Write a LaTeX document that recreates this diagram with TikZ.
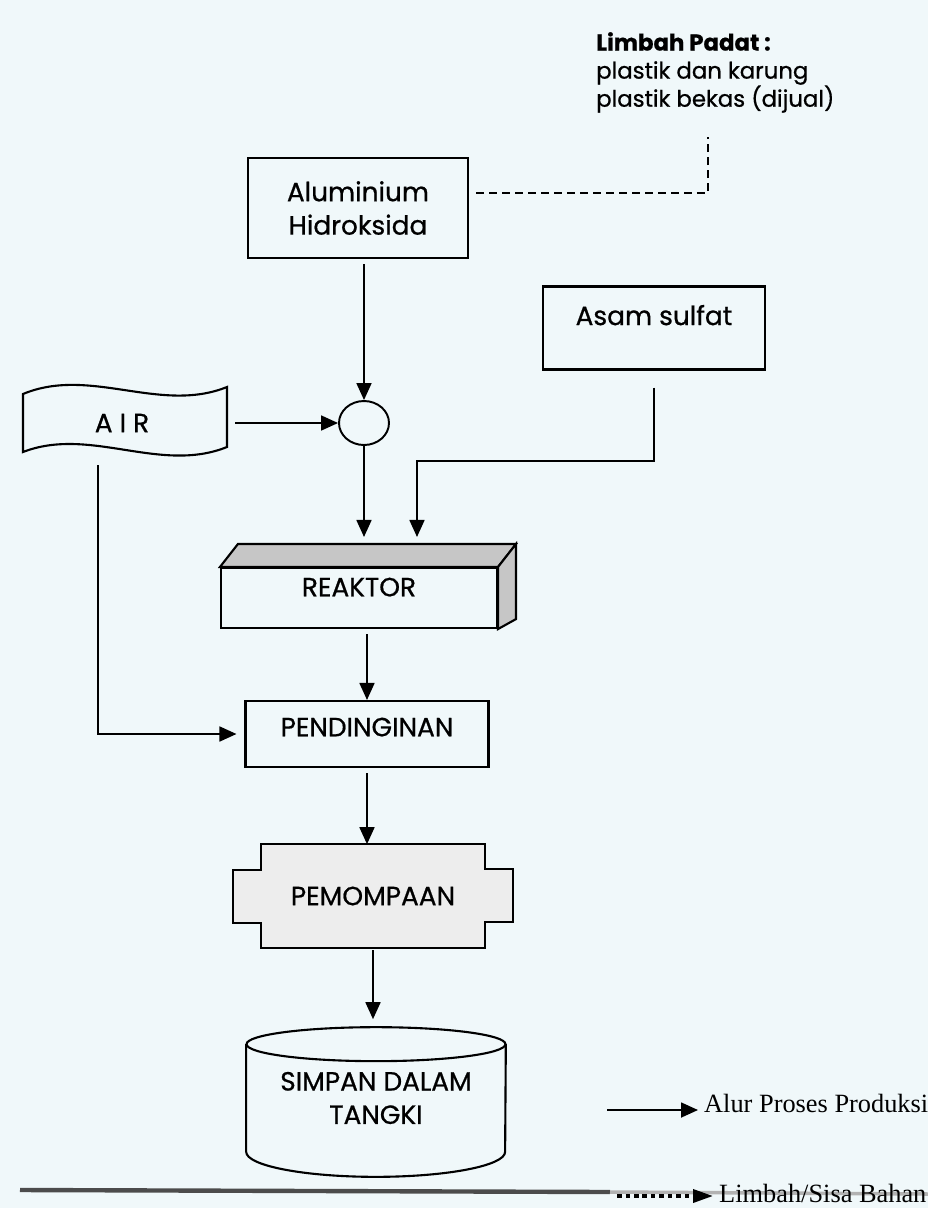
\documentclass[tikz,border=0pt]{standalone}
\usepackage{fontspec}
\setmainfont{Poppins}[FakeBold=0.7]
\newfontfamily\legendfont{Liberation Serif}
\usetikzlibrary{arrows.meta,shapes,positioning,calc,backgrounds}

\definecolor{paper}{RGB}{240,248,250}
\tikzset{
  procbox/.style={draw, line width=1.2pt, align=center, font=\fontsize{15}{19}\selectfont},
  plaintext/.style={align=center, font=\fontsize{15}{19}\selectfont},
  flow/.style={line width=1pt, -{Triangle[length=0.34cm, width=0.3cm]}},
  waste/.style={line width=0.8pt, dash pattern=on 0.16cm off 0.1cm},
  legendtext/.style={anchor=west, font=\legendfont\fontsize{15}{18}\selectfont}
}

\begin{document}
\begin{tikzpicture}[x=0.02cm, y=-0.02cm]
  \useasboundingbox (0,0) rectangle (928,1208);
  \begin{scope}[on background layer]
    \fill[paper] (0,0) rectangle (928,1208);
  \end{scope}

  \node[procbox, minimum width=4.4cm, minimum height=2cm] (alum) at (358,208) {Aluminium\\Hidroksida};
  \node[procbox, minimum width=4.44cm, minimum height=1.66cm, text depth=0.52cm] (asam) at (654,328) {Asam sulfat};
  \node[draw, ellipse, line width=1.1pt, minimum width=1cm, minimum height=0.88cm, inner sep=0pt] (mixer) at (364,423) {};
  \node[plaintext, minimum width=4.08cm, minimum height=1.16cm] (air) at (122,423) {A I R};
  \node[procbox, minimum width=5.52cm, minimum height=1.2cm, text depth=0.44cm] (reaktor) at (359,598) {REAKTOR};
  \node[procbox, minimum width=4.86cm, minimum height=1.32cm, text depth=0.28cm] (pend) at (367,734) {PENDINGINAN};
  \node[plaintext, minimum width=4.48cm, minimum height=2.06cm] (pump) at (373,896) {PEMOMPAAN};
  \node[plaintext, minimum width=5.18cm, minimum height=2.14cm] (tank) at (376,1098) {SIMPAN DALAM\\TANGKI};
  \node[anchor=north west, align=left, font=\fontsize{13}{16}\selectfont] (limbah) at (590,26) {\textbf{Limbah Padat :}\\plastik dan karung\\plastik bekas (dijual)};
  \coordinate (wastetop) at (708,137);
  \coordinate (asamturn) at (417,461);

  \draw[line width=1.2pt] (23,394) .. controls (90,366) and (160,414) .. (227,387) -- (227,447)
    .. controls (160,474) and (90,426) .. (23,452) -- cycle;

  \draw[line width=1.2pt, fill=gray!45] (reaktor.north west) -- ++(18,-23) -- ([shift={(18,-23)}]reaktor.north east) -- (reaktor.north east) -- cycle;
  \draw[line width=1.2pt, fill=gray!45] (reaktor.north east) -- ++(18,-23) -- ([shift={(18,-10)}]reaktor.south east) -- (reaktor.south east) -- cycle;

  \begin{scope}[on background layer]
    \draw[line width=1.2pt, fill=gray!14] (pump.north west) -- (pump.north east) -- ++(0,25) -- ++(28,0) -- ++(0,53) -- ++(-28,0)
      -- (pump.south east) -- (pump.south west) -- ++(0,-25) -- ++(-28,0) -- ++(0,-53) -- ++(28,0) -- cycle;
    \draw[line width=2.5pt, black!70] (20,1190) -- (610,1192);
    \draw[line width=2pt, black!30] (610,1192) -- (928,1194);
  \end{scope}

  \draw[line width=1.2pt] (tank.north west) -- (tank.south west) arc[start angle=180, end angle=360, x radius=2.59cm, y radius=0.5cm] -- (tank.north east);
  \draw[line width=1.2pt] (tank.north) ellipse [x radius=2.59cm, y radius=0.34cm];

  \draw[flow, shorten <=0.1cm] (mixer.north |- alum.south) -- (mixer.north);
  \draw[flow, shorten <=0.22cm] (air.east) -- (mixer.west);
  \draw[flow, shorten >=0.6cm] (mixer.south) -- (mixer.south |- reaktor.north);
  \draw[flow, shorten <=0.34cm, shorten >=0.6cm] (asam.south) |- (asamturn) -- (asamturn |- reaktor.north);
  \draw[flow, shorten <=0.26cm, shorten >=0.16cm] ([xshift=-0.48cm]air.south) |- (pend.west);
  \draw[flow, shorten <=0.1cm] (pend.north |- reaktor.south) -- (pend.north);
  \draw[flow, shorten <=0.1cm] (pend.south) -- (pend.south |- pump.north);
  \draw[flow, shorten <=0.05cm, shorten >=0.5cm] (pump.south) -- (pump.south |- tank.north);
  \draw[waste] ([xshift=0.14cm, yshift=0.3cm]alum.east) -| (wastetop);

  \node[legendtext] (alur) at (698,1103) {Alur Proses Produksi};
  \node[legendtext] (sisa) at (713,1193) {Limbah/Sisa Bahan};
  \coordinate (alurstart) at (607,1110);
  \coordinate (sisastart) at (617,1196);
  \draw[flow] (alurstart) -- (alurstart -| alur.west);
  \draw[line width=2pt, dash pattern=on 0.09cm off 0.08cm, -{Triangle[length=0.4cm, width=0.26cm]}] (sisastart) -- (sisastart -| sisa.west);
\end{tikzpicture}
\end{document}
